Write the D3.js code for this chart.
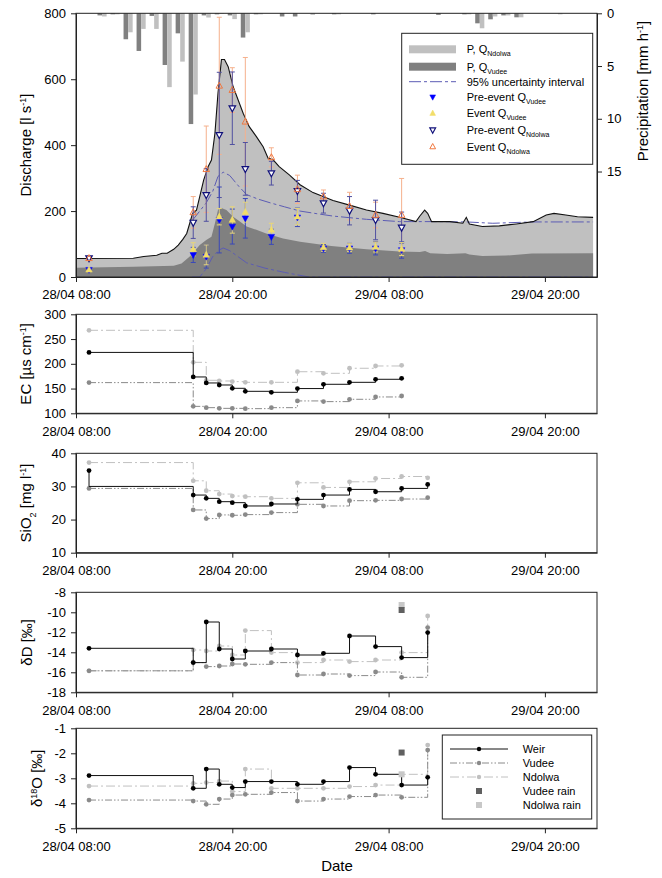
<!DOCTYPE html>
<html><head><meta charset="utf-8">
<script src="https://cdn.jsdelivr.net/npm/d3@7"></script>
<style>body{margin:0;background:#fff} svg{font-family:"Liberation Sans",Arial,sans-serif}</style>
</head><body><svg id="c" width="662" height="878"></svg>
<script>
const parse = d3.timeParse("%d/%m %H:%M");

// ---------- Top panel data ----------
const qTimes = ["28/04 08:00","28/04 12:24","28/04 13:12","28/04 14:12","28/04 14:36","28/04 15:00","28/04 15:30","28/04 15:51","28/04 16:12","28/04 16:30","28/04 16:44","28/04 16:57","28/04 17:15","28/04 17:30","28/04 17:48","28/04 18:09","28/04 18:24","28/04 18:40","28/04 18:54","28/04 19:10","28/04 19:24","28/04 19:41","28/04 20:04","28/04 20:27","28/04 20:50","28/04 21:18","28/04 21:51","28/04 22:22","28/04 22:45","28/04 23:06","28/04 23:36","29/04 00:24","29/04 01:12","29/04 02:12","29/04 02:58","29/04 03:44","29/04 05:00","29/04 06:18","29/04 07:34","29/04 08:51","29/04 10:06","29/04 10:24","29/04 10:46","29/04 11:00","29/04 11:18","29/04 12:42","29/04 13:42","29/04 13:58","29/04 14:12","29/04 15:12","29/04 16:30","29/04 17:48","29/04 19:06","29/04 20:06","29/04 20:42","29/04 21:36","29/04 22:30","29/04 23:42"];
const qWeir = [56,57,62,66,72,72,84,97,114,132,163,193,203,244,294,335,355,436,557,660,660,638,577,537,497,456,426,395,360,357,335,309,280,256,244,232,218,203,193,181,168,185,203,193,168,168,163,181,161,153,155,161,168,188,193,188,183,181];

const vTimes = ["28/04 08:00","28/04 12:24","28/04 15:30","28/04 16:06","28/04 16:44","28/04 17:30","28/04 18:00","28/04 18:24","28/04 18:40","28/04 18:54","28/04 19:10","28/04 19:33","28/04 20:04","28/04 20:35","28/04 21:06","28/04 21:51","28/04 22:36","28/04 23:54","29/04 01:12","29/04 03:36","29/04 06:18","29/04 08:51","29/04 10:24","29/04 10:48","29/04 11:12","29/04 12:30","29/04 13:54","29/04 14:12","29/04 15:12","29/04 17:00","29/04 19:00","29/04 23:42"];
const qVudee = [28,31,34,41,62,97,112,122,163,203,209,203,183,168,153,143,132,117,107,94,84,77,76,79,72,70,72,68,64,65,71,72];

const upTimes = ["28/04 16:54","28/04 17:30","28/04 18:00","28/04 18:30","28/04 18:54","28/04 19:18","28/04 19:48","28/04 20:30","28/04 21:06","28/04 22:00","28/04 23:00","29/04 00:00","29/04 01:12","29/04 02:30","29/04 03:42","29/04 06:18","29/04 08:51","29/04 12:00","29/04 14:00","29/04 16:00","29/04 19:00","29/04 23:42"];
const upperCI = [170,200,225,260,305,318,308,275,250,236,224,213,200,192,185,175,168,168,167,163,167,167];
const loTimes = ["28/04 16:54","28/04 17:30","28/04 18:00","28/04 18:30","28/04 19:00","28/04 19:18","28/04 19:48","28/04 20:30","28/04 21:06","28/04 22:30","29/04 00:00","29/04 01:12","29/04 01:54","29/04 23:42"];
const lowerCI = [0,0,25,62,82,88,80,60,43,27,14,5,0,0];

const rainTimes = ["28/04 10:00","28/04 11:00","28/04 12:00","28/04 13:00","28/04 14:00","28/04 15:00","28/04 16:00","28/04 17:00","28/04 18:00","28/04 19:00","28/04 20:00","28/04 21:00","28/04 22:00","29/04 00:00","29/04 01:00","29/04 02:00","29/04 04:00","29/04 07:00","29/04 12:00","29/04 14:00","29/04 15:00","29/04 16:00","29/04 17:00","29/04 18:00","29/04 21:00"];
const rainVudee  = [0.2,0.1,2.46,3.57,0.25,4.9,1.9,10.5,0.2,0.1,0.2,2.3,0.1,0.3,0.3,0,0.1,0.1,0.15,0.1,0.95,0.57,0.2,0.38,0];
const rainNdolwa = [0.3,0.1,1.8,1.48,1.48,7.0,4.58,7.7,0.4,0.05,0.55,1.8,0.1,0,0,0.15,0.1,0,0,0.1,1.42,0.3,0.2,0.38,0.1];

const sampleTimes = ["28/04 09:00","28/04 17:00","28/04 18:00","28/04 19:00","28/04 20:00","28/04 21:00","28/04 23:00","29/04 01:00","29/04 03:00","29/04 05:00","29/04 07:00","29/04 09:00","29/04 11:00"];
const preVudee    = [22,67,62,173,153,178,122,181,87,87,87,82];
const preVudeeErr = [0,23,35,100,53,60,23,28,12,15,20,25];
const evVudee     = [22,84,67,183,173,197,143,183,90,89,91,85];
const evVudeeErr  = [0,20,30,25,40,30,20,25,12,12,15,20];
const preNdolwa    = [57,165,249,431,512,328,315,261,224,201,173,150];
const preNdolwaErr = [0,48,80,190,110,80,36,32,30,43,60,47];
const evNdolwa     = [57,196,327,580,567,471,363,266,244,215,188,188];
const evNdolwaErr  = [0,48,131,208,68,195,29,43,20,42,39,111];

// ---------- Chemistry data ----------
const ecWeir   = [223,173.4,161.3,157.2,150.5,144.4,142.4,150,158.6,162.6,168.7,170.7];
const ecVudee  = [162,114,111.4,110,110,109.4,111.4,125,123.6,128.3,133,135];
const ecNdolwa = [267.7,203,166.7,165.3,164,162.6,162.6,184,180.8,191,195.6,197];

// SiO2 weir has a second reading at 09:00 (line drops to it before the 17:00 sample)
const siWeirTimes = ["28/04 09:00","28/04 09:00","28/04 17:00","28/04 18:00","28/04 19:00","28/04 20:00","28/04 21:00","28/04 23:00","29/04 01:00","29/04 03:00","29/04 05:00","29/04 07:00","29/04 09:00","29/04 11:00"];
const siWeir   = [34.8,30.0,27.4,26.4,25.4,25.1,24.1,24.7,26.1,27.4,29.1,28.4,29.4,30.6];
const siVudee  = [29.4,22.9,20.3,21.4,21.3,21.5,22.1,24.6,24.1,25.7,25.8,26.2,26.6];
const siNdolwa = [37.2,31.7,28.7,27.7,27.1,26.9,26.4,31.1,29.7,31.4,32.4,33,32.6];

const dDWeir   = [-13.6,-15.03,-10.97,-13.67,-14.67,-13.87,-13.67,-14.27,-14.1,-12.37,-13.43,-14.53,-12.03];
const dDVudee  = [-15.85,-15.03,-15.43,-15.37,-15.17,-15.2,-15.03,-16.27,-16.17,-16.33,-15.97,-16.5,-11.53];
const dDNdolwa = [-15.85,-13.77,-13.87,-13.37,-14.27,-11.83,-14.03,-15.03,-14.77,-14.93,-14.77,-14.03,-10.37];
const rainSampleTime = "29/04 09:00";
const dDRainVudee = -9.77, dDRainNdolwa = -9.27;

const d18Weir   = [-2.89,-3.4,-2.63,-3.24,-3.37,-3.13,-3.13,-3.24,-3.13,-2.57,-2.84,-3.27,-2.96];
const d18Vudee  = [-3.87,-3.91,-4.04,-3.83,-3.67,-3.64,-3.57,-3.91,-3.83,-3.73,-3.67,-3.76,-1.87];
const d18Ndolwa = [-3.31,-3.2,-3.17,-3.11,-3.53,-2.63,-3.4,-3.4,-3.4,-3.33,-3.27,-2.84,-1.67];
const d18RainVudee = -1.97, d18RainNdolwa = -2.84;

const xTickLabels = ["28/04 08:00","28/04 20:00","29/04 08:00","29/04 20:00"];

// ---------- Drawing ----------
const svg = d3.select("#c");
const X0 = 76, X1 = 597;
const x = d3.scaleTime().domain([parse("28/04 08:00"), parse("30/04 00:00")]).range([X0, X1]);
const C_DARK = "#808080", C_LIGHT = "#c0c0c0", C_AX = "#222";
const FS = 13, LFS = 11;

function styleAxis(g) {
  g.selectAll("text").attr("font-size", FS).attr("fill", "#000").attr("font-family", "Liberation Sans, Arial, sans-serif");
  g.selectAll("line,path").attr("stroke", C_AX);
}
function xAxis(yBottom) {
  svg.append("g").attr("transform", `translate(0,${yBottom})`)
    .call(d3.axisBottom(x).tickValues(xTickLabels.map(parse)).tickFormat(d3.timeFormat("%d/%m %H:%M")).tickSize(5).tickSizeOuter(0).tickPadding(8))
    .call(styleAxis);
}
function yAxis(y, ticks) {
  svg.append("g").attr("transform", `translate(${X0},0)`)
    .call(d3.axisLeft(y).tickValues(ticks).tickFormat(d => String(d)).tickSize(5).tickSizeOuter(0).tickPadding(5))
    .call(styleAxis);
}
function frame(t, b) {
  svg.append("rect").attr("x", X0).attr("y", t).attr("width", X1 - X0).attr("height", b - t)
    .attr("fill", "none").attr("stroke", C_AX).attr("stroke-width", 1);
}
function yLabel(xpos, ypos, parts) {
  const t = svg.append("text").attr("transform", `translate(${xpos},${ypos}) rotate(-90)`)
    .attr("text-anchor", "middle").attr("font-size", 15).attr("fill", "#000");
  parts.forEach(p => {
    const s = t.append("tspan").text(p.t);
    if (p.sup) s.attr("font-size", 9).attr("baseline-shift", "super");
    if (p.sub) s.attr("font-size", 9).attr("baseline-shift", "sub");
  });
}

// ===== Top panel =====
const T0 = 13.3, T1 = 277;
const yQ = d3.scaleLinear().domain([0, 800]).range([T1, T0]);
const yP = d3.scaleLinear().domain([0, 25]).range([T0, T1]);

const weirData = qTimes.map((t, i) => ({ t: parse(t), v: qWeir[i] }));
const vudData = vTimes.map((t, i) => ({ t: parse(t), v: qVudee[i] }));

svg.append("path").datum(weirData).attr("fill", C_LIGHT)
  .attr("d", d3.area().x(d => x(d.t)).y0(yQ(0)).y1(d => yQ(d.v)));
svg.append("path").datum(vudData).attr("fill", C_DARK)
  .attr("d", d3.area().x(d => x(d.t)).y0(yQ(0)).y1(d => yQ(d.v)));

// rain bars
const barW = 21 * 60 * 1000;
rainTimes.forEach((t, i) => {
  const tt = parse(t);
  if (rainVudee[i] > 0) svg.append("rect").attr("x", x(new Date(+tt - barW))).attr("y", yP(0))
    .attr("width", x(tt) - x(new Date(+tt - barW))).attr("height", yP(rainVudee[i]) - yP(0)).attr("fill", C_DARK);
  if (rainNdolwa[i] > 0) svg.append("rect").attr("x", x(tt)).attr("y", yP(0))
    .attr("width", x(new Date(+tt + barW)) - x(tt)).attr("height", yP(rainNdolwa[i]) - yP(0)).attr("fill", C_LIGHT);
});

// uncertainty lines
const CI_COL = "#5c5cb4", CI_DASH = "12,3,3,3";
const lineQ = d3.line().x(d => x(d.t)).y(d => yQ(d.v));
svg.append("path").datum(upTimes.map((t, i) => ({ t: parse(t), v: upperCI[i] })))
  .attr("fill", "none").attr("stroke", CI_COL).attr("stroke-width", 1).attr("stroke-dasharray", CI_DASH).attr("d", lineQ);
svg.append("path").datum(loTimes.map((t, i) => ({ t: parse(t), v: lowerCI[i] })))
  .attr("fill", "none").attr("stroke", CI_COL).attr("stroke-width", 1).attr("stroke-dasharray", CI_DASH).attr("d", lineQ);

svg.append("path").datum(weirData).attr("fill", "none").attr("stroke", "#111").attr("stroke-width", 1.1).attr("d", lineQ);

// error bars + markers
const tri = (up, s) => up ? `M0,${-s}L${s * 0.9},${s * 0.65}L${-s * 0.9},${s * 0.65}Z` : `M0,${s}L${s * 0.9},${-s * 0.65}L${-s * 0.9},${-s * 0.65}Z`;
function errBars(vals, errs, col) {
  vals.forEach((v, i) => {
    const e = errs[i]; if (!e) return;
    const cx = x(parse(sampleTimes[i]));
    const ya = yQ(Math.min(800, v + e)), yb = yQ(Math.max(0, v - e));
    svg.append("line").attr("x1", cx).attr("x2", cx).attr("y1", ya).attr("y2", yb).attr("stroke", col).attr("stroke-width", 1);
    [ya, yb].forEach(yy => svg.append("line").attr("x1", cx - 2.5).attr("x2", cx + 2.5).attr("y1", yy).attr("y2", yy).attr("stroke", col).attr("stroke-width", 1));
  });
}
function markers(vals, up, fill, stroke, sw) {
  vals.forEach((v, i) => {
    svg.append("path").attr("transform", `translate(${x(parse(sampleTimes[i]))},${yQ(v)})`)
      .attr("d", tri(up, 3.6)).attr("fill", fill).attr("stroke", stroke).attr("stroke-width", sw);
  });
}
errBars(evNdolwa, evNdolwaErr, "#f5b08c");
errBars(preNdolwa, preNdolwaErr, "#5050a0");
errBars(preVudee, preVudeeErr, "#3a48b8");
errBars(evVudee, evVudeeErr, "#e8d67a");
markers(preVudee, false, "#0000ff", "#0000ff", 0.5);
markers(evVudee, true, "#f2de6a", "#f2de6a", 0.5);
markers(preNdolwa, false, "#fff", "#10107a", 1.2);
markers(evNdolwa, true, "none", "#f07840", 1);

frame(T0, T1);
xAxis(T1);
yAxis(yQ, [0, 200, 400, 600, 800]);
svg.append("g").attr("transform", `translate(${X1},0)`)
  .call(d3.axisRight(yP).tickValues([0, 5, 10, 15]).tickFormat(d => String(d)).tickSize(5).tickSizeOuter(0).tickPadding(5))
  .call(styleAxis);
yLabel(31, 145, [{ t: "Discharge [l s" }, { t: "-1", sup: 1 }, { t: "]" }]);
yLabel(648, 91, [{ t: "Precipitation [mm h" }, { t: "-1", sup: 1 }, { t: "]" }]);

// legend top
{
  const lx = 401.7, ly = 33.3, lw = 191, lh = 131;
  svg.append("rect").attr("x", lx).attr("y", ly).attr("width", lw).attr("height", lh).attr("fill", "#fff").attr("stroke", C_AX);
  const rows = [49.3, 66.7, 81.7, 97, 113.3, 130, 146.7];
  const sx0 = 409, sx1 = 456, mx = 432.7, tx = 466.7;
  svg.append("rect").attr("x", sx0).attr("y", rows[0] - 4).attr("width", sx1 - sx0).attr("height", 8).attr("fill", C_LIGHT);
  svg.append("rect").attr("x", sx0).attr("y", rows[1] - 4).attr("width", sx1 - sx0).attr("height", 8).attr("fill", C_DARK);
  svg.append("line").attr("x1", sx0).attr("x2", sx1).attr("y1", rows[2]).attr("y2", rows[2]).attr("stroke", CI_COL).attr("stroke-dasharray", CI_DASH);
  const mk = (r, up, fill, stroke, sw) => svg.append("path").attr("transform", `translate(${mx},${rows[r]})`).attr("d", tri(up, 3.2)).attr("fill", fill).attr("stroke", stroke).attr("stroke-width", sw);
  mk(3, false, "#0000ff", "#0000ff", 0.5); mk(4, true, "#f2de6a", "#f2de6a", 0.5);
  mk(5, false, "#fff", "#10107a", 1.2); mk(6, true, "none", "#f07840", 1);
  const labels = [["P, Q", "Ndolwa"], ["P, Q", "Vudee"], ["95% uncertainty interval", null], ["Pre-event Q", "Vudee"], ["Event Q", "Vudee"], ["Pre-event Q", "Ndolwa"], ["Event Q", "Ndolwa"]];
  labels.forEach((l, i) => {
    const t = svg.append("text").attr("x", tx).attr("y", rows[i] + 4).attr("font-size", LFS).attr("fill", "#000");
    t.append("tspan").text(l[0]);
    if (l[1]) t.append("tspan").text(l[1]).attr("font-size", 7).attr("dy", 3);
  });
}

// ===== Chemistry panels =====
const chemPanels = [
  { top: 314.3, bot: 413.3, dom: [100, 300], ticks: [100, 150, 200, 250, 300], weir: ecWeir, vud: ecVudee, ndo: ecNdolwa, lx: 31, label: [{ t: "EC [µs cm" }, { t: "-1", sup: 1 }, { t: "]" }] },
  { top: 453.3, bot: 552.7, dom: [10, 40], ticks: [10, 20, 30, 40], weir: siWeir, weirTimes: siWeirTimes, vud: siVudee, ndo: siNdolwa, lx: 31, label: [{ t: "SiO" }, { t: "2", sub: 1 }, { t: " [mg l" }, { t: "-1", sup: 1 }, { t: "]" }] },
  { top: 592.3, bot: 692.3, dom: [-18, -8], ticks: [-18, -16, -14, -12, -10, -8], weir: dDWeir, vud: dDVudee, ndo: dDNdolwa, lx: 32, label: [{ t: "δD [‰]" }], rain: [dDRainVudee, dDRainNdolwa] },
  { top: 728.3, bot: 828.3, dom: [-5, -1], ticks: [-5, -4, -3, -2, -1], weir: d18Weir, vud: d18Vudee, ndo: d18Ndolwa, lx: 42, label: [{ t: "δ" }, { t: "18", sup: 1 }, { t: "O [‰]" }], rain: [d18RainVudee, d18RainNdolwa] }
];
const DASH_VUD = "7,2,1.5,2,1.5,2", DASH_NDO = "9,3,2,3";
chemPanels.forEach(p => {
  const y = d3.scaleLinear().domain(p.dom).range([p.bot, p.top]);
  const step = d3.line().curve(d3.curveStepAfter).x(d => x(d.t)).y(d => y(d.v));
  const mkData = (arr, times) => arr.map((v, i) => ({ t: parse((times || sampleTimes)[i]), v }));
  const series = [
    { d: mkData(p.ndo), col: C_LIGHT, dash: DASH_NDO, dot: "#c0c0c0" },
    { d: mkData(p.vud), col: "#8a8a8a", dash: DASH_VUD, dot: "#8a8a8a" },
    { d: mkData(p.weir, p.weirTimes), col: "#111", dash: null, dot: "#000" }
  ];
  series.forEach(s => {
    svg.append("path").datum(s.d).attr("fill", "none").attr("stroke", s.col).attr("stroke-width", 1)
      .attr("stroke-dasharray", s.dash).attr("d", step);
    s.d.forEach((d, i) => {
      if (i > 0 && +d.t === +s.d[i - 1].t) return; // one marker per sample time
      svg.append("circle").attr("cx", x(d.t)).attr("cy", y(d.v)).attr("r", 2.4).attr("fill", s.dot);
    });
  });
  if (p.rain) {
    const rx = x(parse(rainSampleTime));
    svg.append("rect").attr("x", rx - 3).attr("y", y(p.rain[1]) - 3).attr("width", 6).attr("height", 6).attr("fill", "#c8c8c8");
    svg.append("rect").attr("x", rx - 3).attr("y", y(p.rain[0]) - 3).attr("width", 6).attr("height", 6).attr("fill", "#606060");
  }
  frame(p.top, p.bot);
  xAxis(p.bot);
  yAxis(y, p.ticks);
  yLabel(p.lx, (p.top + p.bot) / 2, p.label);
});

// bottom legend
{
  const lx = 442.3, ly = 735, lw = 149.4, lh = 84;
  svg.append("rect").attr("x", lx).attr("y", ly).attr("width", lw).attr("height", lh).attr("fill", "#fff").attr("stroke", C_AX);
  const rows = [749, 763, 777, 791, 805];
  const sx0 = 450, sx1 = 508, mx = 479, tx = 522.7;
  const ls = [["Weir", "#111", null, "#000"], ["Vudee", "#8a8a8a", DASH_VUD, "#8a8a8a"], ["Ndolwa", C_LIGHT, DASH_NDO, "#c0c0c0"]];
  ls.forEach((l, i) => {
    svg.append("line").attr("x1", sx0).attr("x2", sx1).attr("y1", rows[i]).attr("y2", rows[i]).attr("stroke", l[1]).attr("stroke-dasharray", l[2]);
    svg.append("circle").attr("cx", mx).attr("cy", rows[i]).attr("r", 2.2).attr("fill", l[3]);
  });
  svg.append("rect").attr("x", mx - 3).attr("y", rows[3] - 3).attr("width", 6).attr("height", 6).attr("fill", "#606060");
  svg.append("rect").attr("x", mx - 3).attr("y", rows[4] - 3).attr("width", 6).attr("height", 6).attr("fill", "#c8c8c8");
  ["Weir", "Vudee", "Ndolwa", "Vudee rain", "Ndolwa rain"].forEach((t, i) =>
    svg.append("text").attr("x", tx).attr("y", rows[i] + 4).attr("font-size", LFS).attr("fill", "#000").text(t));
}

svg.append("text").attr("x", 337).attr("y", 871).attr("text-anchor", "middle").attr("font-size", 15).attr("fill", "#000").text("Date");
</script></body></html>
